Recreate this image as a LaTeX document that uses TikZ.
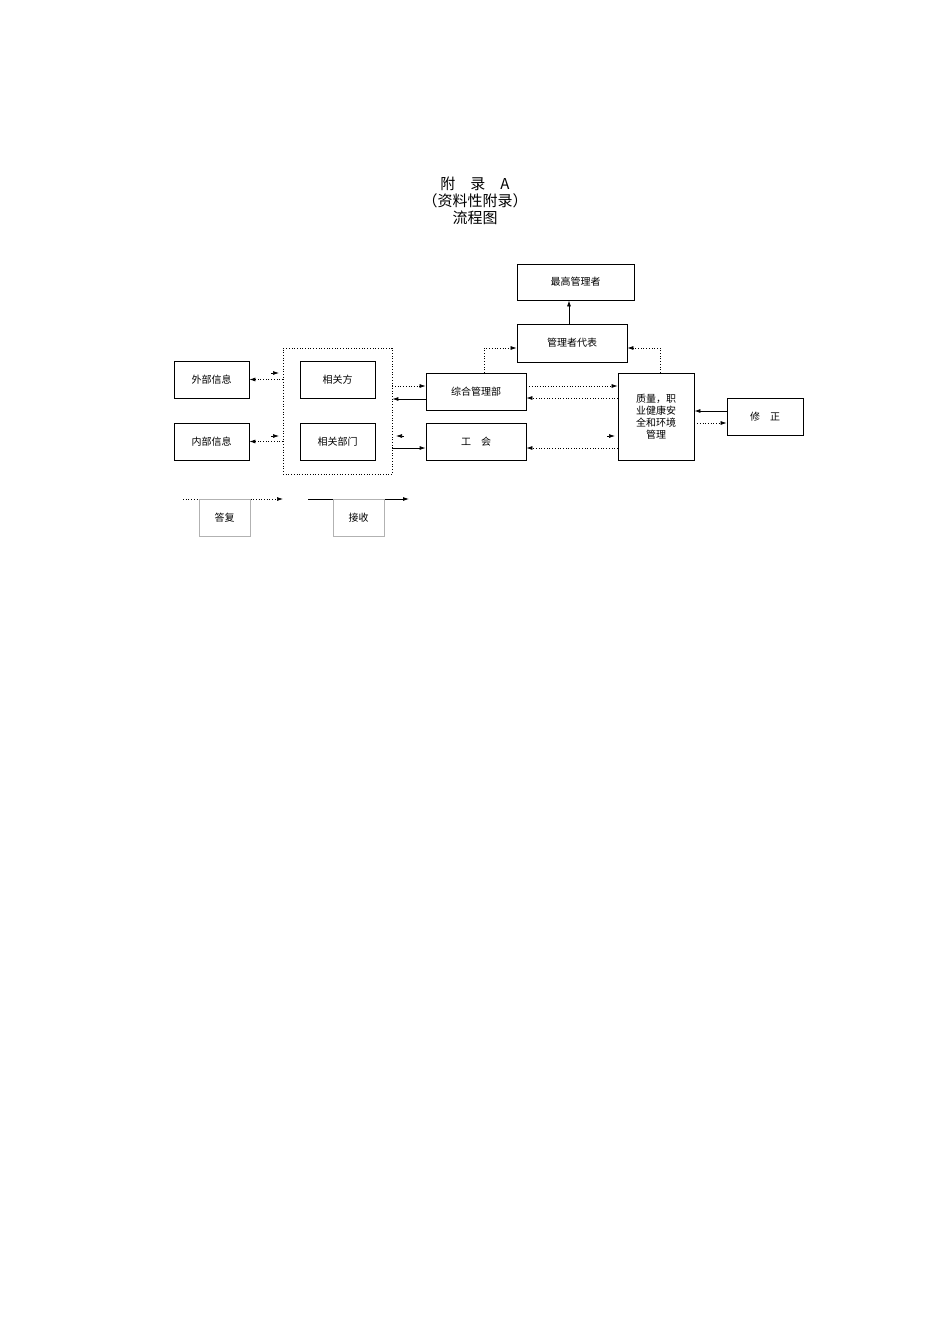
\documentclass[tikz,border=0pt]{standalone}
\usepackage{fontspec}
\setmainfont{Noto Sans CJK SC}
\usetikzlibrary{arrows.meta}
\begin{document}
\begin{tikzpicture}[x=1pt,y=-1pt,
  bx/.style={draw,line width=0.8pt,inner sep=0pt,font=\fontsize{10}{12}\selectfont,align=center},
  dt/.style={dotted,line width=0.7pt,-{Latex[length=6pt,width=4pt]}},
  sl/.style={line width=0.8pt,-{Latex[length=6pt,width=4pt]}},
  tip/.style={line width=0.7pt,-{Latex[length=6pt,width=4pt]}}]
\useasboundingbox (0,0) rectangle (950,1344);
\node[font=\fontsize{15}{17}\selectfont,align=center] (title) at (475,201) {附\quad 录\quad A\\（资料性附录）\\流程图};
\node[bx,minimum width=117pt,minimum height=36pt] (top) at (575.5,282) {最高管理者};
\node[bx,minimum width=110pt,minimum height=38pt] (rep) at (572,343) {管理者代表};
\node[bx,minimum width=75pt,minimum height=37pt] (ext) at (211.5,379.5) {外部信息};
\node[bx,minimum width=75pt,minimum height=37pt] (int) at (211.5,441.5) {内部信息};
\node[draw,dotted,line width=0.7pt,minimum width=109pt,minimum height=126pt,inner sep=0pt] (grp) at (337.5,411) {};
\node[bx,minimum width=75pt,minimum height=37pt] (rel) at (337.5,379.5) {相关方};
\node[bx,minimum width=75pt,minimum height=37pt] (dep) at (337.5,441.5) {相关部门};
\node[bx,minimum width=100pt,minimum height=37pt] (gen) at (476,391.5) {综合管理部};
\node[bx,minimum width=100pt,minimum height=37pt] (uni) at (476,441.5) {工\quad 会};
\node[bx,minimum width=76pt,minimum height=87pt] (qm) at (656,416.5) {质量，职\\业健康安\\全和环境\\管理};
\node[bx,minimum width=76pt,minimum height=37pt] (fix) at (765,416.5) {修\quad 正};
% connectors
\draw[dt] (grp.west|-ext) -- (ext.east);
\draw[dt] (grp.west|-int) -- (int.east);
\draw[tip] (271,373) -- (279,373);
\draw[tip] (271,436) -- (279,436);
\draw[tip] (404,436) -- (396,436);
\draw[tip] (607,436) -- (615,436);
\draw[dt] (grp.east|-0,386) -- (gen.west|-0,386);
\draw[sl] (gen.west|-0,399) -- (grp.east|-0,399);
\draw[sl] (grp.east|-0,448) -- (uni.west|-0,448);
\draw[dt] (gen.east|-0,386) -- (qm.west|-0,386);
\draw[dt] (qm.west|-0,398) -- (gen.east|-0,398);
\draw[dt] (qm.west|-0,448) -- (uni.east|-0,448);
\draw[dt] (gen.north-|484,0) |- (rep.west|-0,348);
\draw[dt] (qm.north-|660,0) |- (rep.east|-0,348);
\draw[sl] (rep.north-|569,0) -- (top.south-|569,0);
\draw[sl] (fix.west|-0,411) -- (qm.east|-0,411);
\draw[dt] (qm.east|-0,423) -- (fix.west|-0,423);
% legend
\coordinate (l1a) at (183,499); \coordinate (l1b) at (283,499);
\coordinate (l2a) at (308,499); \coordinate (l2b) at (409,499);
\draw[dt] (l1a) -- (l1b);
\draw[sl] (l2a) -- (l2b);
\node[draw=gray!60,line width=0.5pt,minimum width=51pt,minimum height=37pt,inner sep=0pt,font=\fontsize{10}{12}\selectfont] (lg1) at (224.5,517.5) {答复};
\node[draw=gray!60,line width=0.5pt,minimum width=51pt,minimum height=37pt,inner sep=0pt,font=\fontsize{10}{12}\selectfont] (lg2) at (358.5,517.5) {接收};
\end{tikzpicture}
\end{document}
